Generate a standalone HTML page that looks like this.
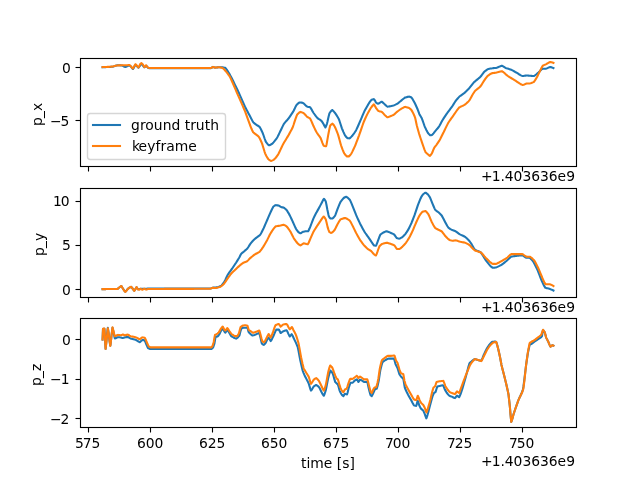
<!DOCTYPE html>
<html lang="en">
<head>
<meta charset="utf-8">
<title>p_x, p_y, p_z: ground truth vs keyframe</title>
<style>
html,body{margin:0;padding:0;background:#fff;}
body{width:640px;height:480px;overflow:hidden;}
svg{display:block;}
text{font-family:"DejaVu Sans","Liberation Sans",sans-serif;font-size:13.889px;fill:#000;white-space:pre;}
.sp{stroke:#000;stroke-width:1.111;fill:none;}
.tk{stroke:#000;stroke-width:1.111;fill:none;}
.gt{stroke:#1f77b4;stroke-width:2.083;fill:none;stroke-linejoin:round;stroke-linecap:square;}
.kf{stroke:#ff7f0e;stroke-width:2.083;fill:none;stroke-linejoin:round;stroke-linecap:square;}
</style>
</head>
<body>
<svg width="640" height="480" viewBox="0 0 640 480">
<rect x="0" y="0" width="640" height="480" fill="#ffffff"/>
<g id="axes1">
<clipPath id="clip1"><rect x="80" y="58" width="497" height="109"/></clipPath>
<g clip-path="url(#clip1)">
<polyline class="gt" points="102.55,67.20 103.55,67.18 104.55,67.15 105.55,67.11 106.55,67.08 107.55,67.03 108.55,66.99 109.55,66.94 110.55,66.88 111.55,66.83 112.00,66.80 112.55,66.69 113.55,66.43 114.55,66.12 115.55,65.80 116.55,65.50 117.55,65.27 118.00,65.20 118.55,65.22 119.55,65.28 120.55,65.36 121.55,65.45 122.00,65.50 122.55,65.70 123.55,66.22 124.55,66.74 125.30,67.00 125.54,66.93 126.54,66.49 127.54,65.96 128.50,65.60 128.54,65.60 129.54,65.77 130.50,66.00 130.54,66.04 131.54,67.31 132.54,68.70 132.90,69.00 133.54,68.16 134.54,66.22 135.50,64.80 135.54,64.82 136.54,65.68 137.54,66.82 138.50,67.60 138.54,67.57 139.54,66.36 140.54,64.76 141.40,63.80 141.54,63.89 142.54,65.03 143.54,66.45 144.40,67.30 144.54,67.22 145.54,66.24 146.10,65.80 146.54,66.14 147.54,67.32 148.00,67.75 148.54,67.93 149.50,68.15 149.54,68.15 150.54,68.15 151.54,68.15 152.54,68.15 153.54,68.15 154.54,68.15 155.54,68.15 156.54,68.15 157.54,68.15 158.54,68.15 159.54,68.15 160.54,68.15 161.54,68.15 162.54,68.15 163.54,68.15 164.54,68.15 165.54,68.15 166.54,68.15 167.54,68.15 168.54,68.15 169.54,68.15 170.53,68.15 171.53,68.15 172.53,68.15 173.53,68.15 174.53,68.15 175.53,68.15 176.53,68.15 177.53,68.15 178.53,68.15 179.53,68.15 180.53,68.15 181.53,68.15 182.53,68.15 183.53,68.15 184.53,68.15 185.53,68.15 186.53,68.15 187.53,68.15 188.53,68.15 189.53,68.15 190.53,68.15 191.53,68.15 192.53,68.15 193.53,68.15 194.53,68.15 195.53,68.15 196.53,68.15 197.53,68.15 198.53,68.15 199.53,68.15 200.53,68.15 201.53,68.15 202.53,68.15 203.53,68.15 204.53,68.15 205.53,68.15 206.53,68.15 207.53,68.15 208.53,68.15 209.53,68.15 210.53,68.15 211.00,68.15 211.53,67.90 212.53,67.22 213.00,67.00 213.53,67.13 214.53,67.49 215.00,67.60 215.52,67.57 216.52,67.49 217.52,67.40 218.52,67.32 219.00,67.30 219.52,67.30 220.52,67.30 221.52,67.30 222.00,67.30 222.52,67.35 223.52,67.48 224.52,67.66 225.20,67.80 225.52,68.11 226.52,69.32 227.52,70.82 228.52,72.47 229.52,74.14 229.90,74.75 230.52,75.91 231.52,77.82 232.52,79.80 233.52,81.81 234.52,83.84 235.52,85.87 236.20,87.25 236.52,87.92 237.52,90.00 238.52,92.12 238.70,92.50 239.52,94.33 240.52,96.60 241.52,98.89 242.52,101.18 243.52,103.45 244.52,105.67 244.90,106.50 245.52,107.72 246.52,109.66 247.52,111.57 248.52,113.46 249.52,115.34 250.52,117.22 251.30,118.70 251.52,119.12 252.52,121.09 253.10,122.10 253.52,122.51 254.52,123.38 255.52,124.17 255.80,124.40 256.52,124.88 257.52,125.49 258.52,126.12 259.52,126.85 259.70,127.00 260.51,128.41 261.51,130.46 262.51,132.67 262.80,133.30 263.51,135.27 264.51,138.24 265.51,141.00 265.90,141.90 266.51,142.70 267.51,143.92 268.51,144.91 269.10,145.30 269.51,145.18 270.51,144.73 271.51,144.16 272.20,143.75 272.51,143.44 273.51,142.37 274.51,141.17 275.51,139.88 276.51,138.53 276.90,138.00 277.51,136.88 278.51,134.91 279.51,132.85 280.51,130.79 280.80,130.20 281.51,128.73 282.51,126.62 283.51,124.62 283.90,123.90 284.51,123.11 285.51,121.92 286.51,120.80 287.51,119.69 288.51,118.51 288.60,118.40 289.51,117.12 290.51,115.67 291.51,114.19 292.51,112.65 293.30,111.40 293.51,111.00 294.51,108.93 295.51,106.83 296.40,105.20 296.51,105.09 297.51,104.05 298.51,103.13 299.50,102.50 299.51,102.50 300.51,102.56 301.51,102.66 302.51,102.78 302.70,102.80 303.51,103.33 304.51,104.22 305.50,105.22 306.50,106.14 307.30,106.70 307.50,106.75 308.50,106.92 309.50,107.09 310.00,107.20 310.50,107.78 311.50,109.32 312.50,111.13 313.50,112.85 313.60,113.00 314.50,114.25 315.50,115.62 316.50,116.92 317.50,118.10 317.50,118.10 318.50,118.82 319.50,119.46 320.50,120.12 321.40,120.80 321.50,120.93 322.50,122.39 323.50,124.00 323.50,124.00 324.50,126.05 325.40,127.50 325.50,127.36 326.50,125.02 327.00,123.60 327.50,121.57 328.50,116.94 329.40,113.40 329.50,113.24 330.50,111.76 331.50,110.57 332.20,110.00 332.50,110.19 333.50,111.15 334.50,112.35 334.80,112.70 335.50,113.69 336.50,115.17 337.50,116.74 338.50,118.44 338.75,118.90 339.50,120.96 340.50,124.05 341.50,127.14 341.90,128.30 342.50,129.74 343.50,132.10 344.50,134.30 345.00,135.30 345.50,136.00 346.50,137.32 347.30,138.10 347.50,138.14 348.50,138.30 349.40,138.40 349.50,138.36 350.50,137.62 351.49,136.61 352.00,136.10 352.49,135.48 353.49,134.14 354.49,132.73 355.49,131.23 355.90,130.60 356.49,129.40 357.49,127.23 358.49,124.97 359.49,122.69 359.80,122.00 360.49,120.40 361.49,118.04 362.49,115.67 363.49,113.35 364.49,111.12 364.50,111.10 365.49,109.24 366.49,107.41 367.49,105.65 368.40,104.10 368.49,103.97 369.49,102.44 370.49,100.98 371.49,99.80 371.60,99.70 372.49,99.41 373.49,99.17 373.90,99.10 374.49,99.81 375.49,101.61 376.25,102.80 376.49,102.95 377.49,103.52 378.10,103.75 378.49,103.61 379.49,103.01 380.49,102.32 381.49,101.77 381.70,101.70 382.49,102.20 383.49,103.12 384.49,104.12 384.80,104.40 385.49,105.04 386.49,106.01 387.49,106.69 387.50,106.70 388.49,106.58 389.49,106.40 390.30,106.25 390.49,106.21 391.49,106.02 392.49,105.81 393.40,105.60 393.49,105.57 394.49,105.15 395.49,104.68 396.48,104.18 397.30,103.75 397.48,103.62 398.48,102.86 399.48,102.05 400.48,101.22 401.25,100.60 401.48,100.41 402.48,99.57 403.48,98.73 404.48,97.96 405.20,97.50 405.48,97.42 406.48,97.14 407.48,96.88 408.48,96.69 409.10,96.60 409.48,96.69 410.48,97.06 411.40,97.50 411.48,97.59 412.48,98.98 413.48,100.69 414.48,102.47 414.50,102.50 415.48,104.54 416.48,106.72 417.48,108.99 417.70,109.50 418.48,111.68 419.40,114.20 419.48,114.35 420.48,116.04 421.48,117.70 421.70,118.10 422.48,120.14 423.48,123.02 424.48,125.86 424.80,126.70 425.48,128.14 426.48,130.21 427.48,132.11 428.00,133.00 428.48,133.56 429.48,134.68 430.30,135.30 430.48,135.28 431.48,135.10 431.90,135.00 432.48,134.50 433.48,133.34 434.48,132.04 435.00,131.40 435.48,130.84 436.48,129.67 437.48,128.49 438.48,127.25 438.90,126.70 439.48,125.74 440.48,123.94 441.47,122.08 442.47,120.27 442.80,119.70 443.47,118.66 444.47,117.14 445.47,115.66 446.47,114.19 447.47,112.74 447.50,112.70 448.47,111.38 449.47,110.06 450.47,108.74 451.47,107.40 452.20,106.40 452.47,105.98 453.47,104.37 454.47,102.75 455.47,101.19 455.60,101.00 456.47,99.92 457.47,98.73 458.47,97.59 459.40,96.60 459.47,96.54 460.47,95.79 461.47,95.10 462.47,94.42 463.47,93.71 463.75,93.50 464.47,92.86 465.47,91.94 466.47,91.00 467.47,90.03 468.47,89.03 468.75,88.75 469.47,87.89 470.47,86.62 471.47,85.33 472.47,84.05 473.47,82.83 473.75,82.50 474.47,81.84 475.47,80.97 476.47,80.14 477.47,79.33 478.47,78.50 479.47,77.64 480.47,76.73 480.60,76.60 481.47,75.49 482.47,74.11 483.47,72.74 484.40,71.60 484.47,71.55 485.47,70.78 486.46,70.07 487.46,69.44 488.10,69.10 488.46,69.01 489.46,68.79 490.46,68.59 491.46,68.42 492.46,68.26 492.50,68.25 493.46,68.16 494.46,68.07 495.46,67.98 496.25,67.90 496.46,67.84 497.46,67.49 498.46,67.05 499.46,66.60 500.46,66.18 501.46,65.85 501.90,65.75 502.46,65.96 503.46,66.53 504.46,67.21 505.46,67.83 505.60,67.90 506.46,68.21 507.46,68.53 508.46,68.84 509.46,69.15 510.46,69.47 511.25,69.75 511.46,69.85 512.46,70.37 513.46,70.92 514.46,71.48 515.46,72.06 516.25,72.50 516.46,72.62 517.46,73.23 518.46,73.88 519.46,74.52 520.46,75.11 521.46,75.62 522.46,75.99 522.50,76.00 523.46,75.92 524.46,75.78 525.46,75.65 526.46,75.53 526.90,75.50 527.46,75.52 528.46,75.59 529.46,75.67 530.46,75.76 531.45,75.85 532.45,75.93 533.45,75.99 533.75,76.00 534.45,75.68 535.45,75.03 536.45,74.24 537.45,73.41 538.10,72.90 538.45,72.57 539.45,71.53 540.45,70.44 541.45,69.46 542.45,68.77 542.50,68.75 543.45,68.75 544.45,68.75 545.45,68.75 545.60,68.75 546.45,68.51 547.45,68.10 548.45,67.63 549.45,67.22 550.25,67.00 550.45,67.04 551.45,67.29 552.45,67.65 553.45,68.10"/>
<polyline class="kf" points="102.55,67.10 103.55,67.07 104.55,67.03 105.55,66.99 106.55,66.95 107.55,66.89 108.55,66.84 109.55,66.77 110.55,66.71 111.55,66.64 112.10,66.60 112.55,66.52 113.55,66.28 114.55,66.01 115.55,65.75 116.55,65.53 116.75,65.50 117.55,65.46 118.55,65.40 119.55,65.36 120.55,65.32 121.40,65.30 121.55,65.30 122.55,65.30 123.55,65.30 124.55,65.30 125.54,65.30 126.10,65.30 126.54,65.27 127.54,65.17 128.54,65.06 129.40,65.00 129.54,65.08 130.54,66.05 131.30,66.90 131.54,67.16 132.54,68.25 132.90,68.50 133.54,67.57 134.54,65.60 134.60,65.50 135.50,64.20 135.54,64.22 136.54,65.21 137.40,66.25 137.54,66.41 138.50,67.40 138.54,67.36 139.54,65.43 140.20,64.10 140.54,63.78 141.40,63.15 141.54,63.22 142.54,64.10 143.00,64.60 143.54,65.66 144.40,67.20 144.54,67.10 145.54,65.85 146.10,65.30 146.54,65.76 147.54,67.23 147.70,67.40 148.54,67.78 149.10,67.95 149.54,67.95 150.54,67.95 151.54,67.95 152.54,67.95 153.54,67.95 154.54,67.95 155.54,67.95 156.54,67.95 157.54,67.95 158.54,67.95 159.54,67.95 160.54,67.95 161.54,67.95 162.54,67.95 163.54,67.95 164.54,67.95 165.54,67.95 166.54,67.95 167.54,67.95 168.54,67.95 169.54,67.95 170.53,67.95 171.53,67.95 172.53,67.95 173.53,67.95 174.53,67.95 175.53,67.95 176.53,67.95 177.53,67.95 178.53,67.95 179.53,67.95 180.53,67.95 181.53,67.95 182.53,67.95 183.53,67.95 184.53,67.95 185.53,67.95 186.53,67.95 187.53,67.95 188.53,67.95 189.53,67.95 190.53,67.95 191.53,67.95 192.53,67.95 193.53,67.95 194.53,67.95 195.53,67.95 196.53,67.95 197.53,67.95 198.53,67.95 199.53,67.95 200.53,67.95 201.53,67.95 202.53,67.95 203.53,67.95 204.53,67.95 205.53,67.95 206.53,67.95 207.53,67.95 208.53,67.95 209.53,67.95 210.53,67.95 211.10,67.95 211.53,67.77 212.53,67.11 213.00,66.90 213.53,67.06 214.53,67.51 215.00,67.65 215.52,67.61 216.52,67.49 217.52,67.34 218.52,67.23 218.90,67.20 219.52,67.30 220.52,67.52 221.52,67.80 222.52,68.11 222.80,68.20 223.52,68.82 224.52,69.81 225.52,70.94 226.52,72.17 227.52,73.47 228.52,74.82 229.52,76.19 229.60,76.30 230.52,78.12 231.52,80.23 232.52,82.45 233.52,84.75 234.52,87.09 235.52,89.45 236.52,91.79 237.40,93.80 237.52,94.07 238.52,96.34 239.52,98.60 240.52,100.86 241.52,103.12 242.52,105.40 243.52,107.72 244.52,110.07 245.20,111.70 245.52,112.55 246.52,115.30 247.52,118.12 248.52,120.94 249.52,123.71 250.00,125.00 250.52,126.28 251.52,128.77 252.52,131.06 253.00,132.00 253.52,132.52 254.52,133.39 255.52,134.15 256.52,134.88 257.52,135.64 258.52,136.52 258.90,136.90 259.52,138.00 260.51,140.04 261.51,142.28 262.00,143.40 262.51,144.95 263.51,148.26 264.51,151.57 265.20,153.60 265.51,154.23 266.51,156.17 267.51,157.92 268.30,159.10 268.51,159.28 269.51,160.09 270.51,160.74 270.90,160.90 271.51,160.75 272.51,160.37 273.51,159.91 273.75,159.80 274.51,159.08 275.51,157.98 276.51,156.75 277.51,155.45 277.70,155.20 278.51,153.71 279.51,151.70 280.51,149.59 281.51,147.45 282.51,145.37 283.10,144.20 283.51,143.49 284.51,141.82 285.51,140.18 286.51,138.55 287.51,136.89 287.80,136.40 288.51,135.14 289.51,133.38 290.51,131.60 291.51,129.74 292.50,127.80 292.51,127.78 293.51,125.00 294.51,121.93 295.51,118.86 296.51,116.09 297.20,114.50 297.51,114.18 298.51,113.18 299.51,112.35 300.30,111.90 300.51,111.94 301.51,112.23 302.51,112.61 303.40,113.00 303.51,113.08 304.51,114.00 305.50,115.07 306.50,116.15 307.30,116.90 307.50,117.02 308.50,117.55 309.50,118.08 310.00,118.40 310.50,119.26 311.50,121.36 312.50,123.73 313.50,126.04 313.60,126.25 314.50,128.12 315.50,130.18 316.50,132.13 316.70,132.50 317.50,133.67 318.50,135.02 319.50,136.37 320.50,137.84 320.60,138.00 321.50,140.28 322.50,143.09 323.50,145.40 323.75,145.80 324.50,145.99 325.50,146.18 326.10,146.25 326.50,144.79 327.50,139.09 328.10,135.60 328.50,133.56 329.50,128.40 330.20,125.60 330.50,125.26 331.50,124.26 332.50,123.60 332.50,123.60 333.50,124.69 334.50,126.23 334.80,126.70 335.50,128.22 336.50,130.61 337.50,133.17 338.00,134.50 338.50,136.17 339.50,139.80 340.50,143.45 341.10,145.50 341.50,146.58 342.50,149.27 343.50,151.76 344.20,153.30 344.50,153.71 345.50,155.05 346.50,156.11 346.90,156.40 347.50,156.40 348.50,156.40 348.90,156.40 349.50,155.93 350.50,154.75 351.25,153.75 351.49,153.31 352.49,151.37 353.49,149.27 354.49,147.06 355.20,145.50 355.49,144.77 356.49,142.22 357.49,139.59 358.49,136.92 359.10,135.30 359.49,134.19 360.49,131.31 361.49,128.38 362.49,125.49 363.49,122.69 363.75,122.00 364.49,120.28 365.49,118.04 366.49,115.87 366.90,115.00 367.49,113.88 368.49,112.01 369.49,110.21 370.49,108.50 370.80,108.00 371.49,107.08 372.49,105.75 373.49,104.69 373.90,104.40 374.49,105.14 375.49,107.02 376.25,108.40 376.49,108.70 377.49,109.96 378.49,111.01 378.60,111.10 379.49,111.36 380.49,111.58 381.49,111.83 381.70,111.90 382.49,112.56 383.49,113.61 384.49,114.69 384.80,115.00 385.49,115.65 386.49,116.61 387.49,117.29 387.50,117.30 388.49,117.01 389.49,116.59 390.30,116.25 390.49,116.18 391.49,115.79 392.49,115.40 393.40,115.00 393.49,114.94 394.49,114.14 395.49,113.24 396.48,112.31 397.30,111.60 397.48,111.46 398.48,110.71 399.48,109.97 400.48,109.26 401.25,108.75 401.48,108.63 402.48,108.08 403.48,107.55 404.48,107.12 405.20,106.90 405.48,106.94 406.48,107.16 407.48,107.44 408.48,107.78 409.10,108.00 409.48,108.27 410.48,109.10 411.40,110.00 411.48,110.13 412.48,111.87 413.48,113.84 414.48,116.05 415.00,117.30 415.48,119.29 416.48,124.00 416.75,125.20 417.48,127.95 418.48,131.57 419.10,133.75 419.48,134.94 420.48,137.98 421.48,140.95 421.70,141.60 422.48,143.84 423.48,146.78 424.48,149.57 425.48,151.95 425.60,152.20 426.48,153.08 427.48,153.95 428.00,154.40 428.48,154.84 429.48,155.72 429.80,155.90 430.48,155.28 431.48,153.92 431.90,153.30 432.48,152.01 433.48,149.47 434.20,147.80 434.48,147.40 435.48,146.11 436.48,144.86 436.60,144.70 437.48,143.42 438.48,141.92 439.48,140.36 439.70,140.00 440.48,138.52 441.47,136.53 442.47,134.48 443.47,132.45 443.60,132.20 444.47,130.43 445.47,128.38 446.47,126.34 447.47,124.36 448.30,122.80 448.47,122.53 449.47,121.03 450.47,119.59 451.47,118.18 452.47,116.79 453.47,115.39 453.75,115.00 454.47,113.97 455.47,112.50 456.47,111.02 457.47,109.61 458.47,108.32 459.20,107.50 459.47,107.34 460.47,106.81 461.47,106.34 462.47,105.89 463.47,105.44 464.47,104.93 464.70,104.80 465.47,104.17 466.47,103.31 467.47,102.38 468.47,101.39 469.40,100.40 469.47,100.29 470.47,98.56 471.47,96.65 472.47,94.81 472.50,94.75 473.47,93.23 474.47,91.73 475.00,91.00 475.47,90.56 476.47,89.69 477.47,88.89 478.47,88.12 479.47,87.30 480.47,86.38 480.60,86.25 481.47,84.94 482.47,83.28 483.10,82.25 483.47,81.71 484.47,80.20 485.47,78.70 486.46,77.29 487.46,76.04 487.50,76.00 488.46,75.29 489.46,74.61 490.46,73.98 491.46,73.45 491.90,73.25 492.46,73.15 493.46,72.99 494.46,72.86 495.46,72.72 496.25,72.60 496.46,72.55 497.46,72.31 498.46,72.03 499.46,71.76 500.46,71.51 501.46,71.31 501.90,71.25 502.46,71.52 503.46,72.19 504.46,73.04 505.46,73.96 506.46,74.89 507.46,75.72 507.50,75.75 508.46,76.38 509.46,77.01 510.46,77.64 511.46,78.25 512.46,78.86 513.46,79.46 514.46,80.07 515.00,80.40 515.46,80.68 516.46,81.34 517.46,82.02 518.46,82.71 519.46,83.37 520.46,83.98 521.46,84.50 522.46,84.91 522.75,85.00 523.46,84.81 524.46,84.42 525.46,83.97 526.46,83.60 526.90,83.50 527.46,83.50 528.46,83.50 529.40,83.50 529.46,83.49 530.46,83.26 531.45,82.95 532.45,82.57 533.45,82.14 533.75,82.00 534.45,81.15 535.45,79.64 536.45,77.98 536.90,77.25 537.45,76.19 538.45,74.16 539.45,72.10 540.00,71.00 540.45,70.09 541.45,68.01 542.45,66.18 542.75,65.75 543.45,65.35 544.45,64.88 545.45,64.46 546.25,64.10 546.45,63.99 547.45,63.41 548.45,62.81 549.45,62.29 550.25,62.00 550.45,62.03 551.45,62.22 552.45,62.50 553.45,62.90"/>
</g>
<line class="tk" x1="88.5" y1="166.5" x2="88.5" y2="171.5"/>
<line class="tk" x1="150.5" y1="166.5" x2="150.5" y2="171.5"/>
<line class="tk" x1="212.5" y1="166.5" x2="212.5" y2="171.5"/>
<line class="tk" x1="274.5" y1="166.5" x2="274.5" y2="171.5"/>
<line class="tk" x1="336.5" y1="166.5" x2="336.5" y2="171.5"/>
<line class="tk" x1="398.5" y1="166.5" x2="398.5" y2="171.5"/>
<line class="tk" x1="460.5" y1="166.5" x2="460.5" y2="171.5"/>
<line class="tk" x1="522.5" y1="166.5" x2="522.5" y2="171.5"/>
<line class="tk" x1="80.5" y1="67.5" x2="75.5" y2="67.5"/>
<text id="t_yt1_0" x="61.92" y="72.55">0</text>
<line class="tk" x1="80.5" y1="120.5" x2="75.5" y2="120.5"/>
<text id="t_yt1_-5" x="50.03 60.41" y="125.8">−5</text>
<rect class="sp" x="80.5" y="58.5" width="496" height="108"/>
<text id="t_off1" x="481.05 491.67 500.5 504.66 513.48 522.56 531.14 539.97 548.8 557.62 566.16" y="180.5">+1.403636e9</text>
<text id="t_yl1" transform="translate(41.6,114.25) rotate(-90)" x="-11.73 -3.69 3.25" y="0">p_x</text>
</g>
<g id="axes2">
<clipPath id="clip2"><rect x="80" y="188" width="497" height="110"/></clipPath>
<g clip-path="url(#clip2)">
<polyline class="gt" points="102.55,289.10 103.55,289.10 104.55,289.09 105.55,289.09 106.55,289.08 107.55,289.08 108.55,289.07 109.55,289.07 110.55,289.06 111.55,289.06 112.55,289.05 113.55,289.04 114.55,289.03 115.55,289.02 116.55,289.01 117.35,289.00 117.55,288.90 118.55,288.08 119.20,287.50 119.55,287.25 120.55,286.51 121.35,286.10 121.55,286.29 122.55,287.93 123.00,288.70 123.55,289.51 124.55,290.99 125.25,291.70 125.54,291.50 126.54,290.43 127.54,289.18 128.00,288.70 128.54,288.32 129.54,287.64 130.54,287.09 131.05,286.90 131.54,287.28 132.54,288.46 132.75,288.70 133.54,289.88 134.25,290.70 134.54,290.41 135.54,288.73 136.54,287.25 136.60,287.20 137.54,288.69 138.00,289.30 138.54,289.20 139.54,288.91 140.50,288.70 140.54,288.70 141.54,288.73 142.54,288.76 143.54,288.79 144.00,288.80 144.54,288.78 145.54,288.73 146.54,288.67 147.54,288.62 148.00,288.60 148.54,288.60 149.54,288.60 150.54,288.59 151.54,288.59 152.54,288.59 153.54,288.59 154.54,288.58 155.54,288.58 156.54,288.58 157.54,288.58 158.54,288.58 159.54,288.57 160.54,288.57 161.54,288.57 162.54,288.57 163.54,288.57 164.54,288.57 165.54,288.56 166.54,288.56 167.54,288.56 168.54,288.56 169.54,288.56 170.53,288.56 171.53,288.56 172.53,288.56 173.53,288.56 174.53,288.56 175.53,288.55 176.53,288.55 177.53,288.55 178.53,288.55 179.53,288.55 180.53,288.55 181.53,288.55 182.53,288.55 183.53,288.55 184.53,288.55 185.53,288.55 186.53,288.54 187.53,288.54 188.53,288.54 189.53,288.54 190.53,288.54 191.53,288.54 192.53,288.54 193.53,288.54 194.53,288.53 195.53,288.53 196.53,288.53 197.53,288.53 198.53,288.53 199.53,288.53 200.53,288.52 201.53,288.52 202.53,288.52 203.53,288.52 204.53,288.52 205.53,288.51 206.53,288.51 207.53,288.51 208.53,288.50 209.53,288.50 210.20,288.50 210.53,288.44 211.53,288.15 212.53,287.82 213.00,287.70 213.53,287.64 214.53,287.56 215.52,287.48 216.52,287.40 217.50,287.30 217.52,287.29 218.52,286.95 219.52,286.52 220.52,286.02 221.30,285.60 221.52,285.37 222.52,284.20 223.52,282.85 224.40,281.60 224.52,281.37 225.52,279.35 226.52,277.19 227.52,275.15 227.60,275.00 228.52,273.61 229.52,272.19 230.52,270.81 231.52,269.43 232.25,268.40 232.52,268.00 233.52,266.52 234.52,265.03 235.52,263.53 236.20,262.50 236.52,261.99 237.52,260.41 238.52,258.80 239.30,257.50 239.52,257.07 240.52,254.97 241.10,253.90 241.52,253.49 242.52,252.63 243.52,251.85 244.25,251.25 244.52,251.01 245.52,250.15 246.52,249.26 247.40,248.40 247.52,248.24 248.52,246.73 249.52,245.13 250.00,244.40 250.52,243.73 251.52,242.45 252.52,241.23 253.50,240.10 253.52,240.09 254.52,239.23 255.52,238.42 256.52,237.64 257.00,237.25 257.52,236.86 258.52,236.12 259.52,235.35 260.20,234.75 260.51,234.26 261.51,232.49 262.51,230.52 263.51,228.48 263.80,227.90 264.51,226.29 265.51,223.96 266.51,221.59 267.51,219.23 267.70,218.80 268.51,216.94 269.51,214.67 270.51,212.43 270.80,211.80 271.51,210.28 272.51,208.16 273.40,206.60 273.51,206.51 274.51,205.77 275.51,205.21 275.80,205.10 276.51,205.19 277.51,205.38 278.51,205.60 278.90,205.70 279.51,206.03 280.51,206.68 281.25,207.10 281.51,207.16 282.51,207.36 283.51,207.58 283.60,207.60 284.51,208.22 285.51,209.07 286.51,210.01 286.70,210.20 287.51,211.42 288.51,213.10 289.51,214.88 289.80,215.40 290.51,216.86 291.51,219.00 292.51,221.18 293.00,222.25 293.51,223.37 294.51,225.63 295.51,227.81 296.10,229.00 296.51,229.60 297.51,231.01 298.40,232.10 298.51,232.18 299.51,232.90 300.30,233.30 300.51,233.24 301.51,232.72 302.51,232.10 303.10,231.80 303.51,231.70 304.51,231.46 305.50,231.30 305.50,231.30 306.50,231.30 307.50,231.30 308.10,231.30 308.50,230.74 309.50,228.55 310.20,226.90 310.50,226.14 311.50,223.50 312.50,220.83 313.30,218.80 313.50,218.37 314.50,216.32 315.50,214.34 316.40,212.60 316.50,212.41 317.50,210.63 318.50,208.88 319.50,207.10 319.50,207.10 320.50,205.14 321.50,203.17 321.90,202.40 322.50,201.19 323.50,199.29 323.90,198.80 324.50,199.42 325.50,201.04 325.80,201.60 326.50,204.99 327.30,209.40 327.50,210.34 328.50,215.02 328.90,216.50 329.50,217.42 330.50,218.50 330.50,218.50 331.50,218.50 332.50,218.50 332.50,218.50 333.50,217.65 334.50,216.41 335.10,215.60 335.50,214.68 336.50,211.97 337.50,209.11 337.80,208.30 338.50,206.59 339.50,204.18 340.50,202.01 340.50,202.00 341.50,200.60 342.50,199.33 343.50,198.20 343.70,198.00 344.50,197.50 345.50,196.96 346.20,196.70 346.50,196.84 347.50,197.51 348.50,198.41 349.50,199.43 349.80,199.75 350.50,201.12 351.49,203.42 352.49,205.89 353.00,207.10 353.49,208.33 354.49,210.87 355.49,213.40 356.10,214.90 356.49,215.80 357.49,218.05 358.49,220.26 359.49,222.42 360.00,223.50 360.49,224.44 361.49,226.33 362.49,228.18 363.49,229.99 364.49,231.74 364.70,232.10 365.49,233.26 366.49,234.66 367.49,236.04 368.49,237.44 368.60,237.60 369.49,238.94 370.49,240.45 371.49,241.94 371.70,242.25 372.49,243.39 373.49,244.78 374.10,245.40 374.49,245.48 375.49,245.66 375.90,245.70 376.49,244.67 377.49,242.04 378.00,240.70 378.49,239.39 379.49,236.62 380.30,234.75 380.49,234.57 381.49,233.74 382.49,233.04 382.70,232.90 383.49,232.52 384.49,232.04 385.49,231.62 386.49,231.32 386.60,231.30 387.49,231.53 388.49,231.91 389.49,232.32 389.70,232.40 390.49,232.75 391.49,233.20 392.49,233.68 393.49,234.20 394.40,234.75 394.49,234.85 395.49,236.31 396.48,237.77 396.70,238.00 397.48,238.29 398.48,238.58 399.10,238.70 399.48,238.59 400.48,238.18 401.48,237.65 402.20,237.25 402.48,237.01 403.48,236.06 404.48,235.00 405.30,234.10 405.48,233.85 406.48,232.41 407.48,230.87 408.40,229.40 408.48,229.24 409.48,227.24 410.48,225.14 411.48,222.96 411.60,222.70 412.48,220.49 413.48,217.91 414.48,215.26 414.80,214.40 415.48,212.38 416.48,209.33 417.48,206.31 417.90,205.10 418.48,203.62 419.48,201.11 420.48,198.71 421.40,196.70 421.48,196.58 422.48,195.12 423.30,194.10 423.48,193.97 424.48,193.26 425.48,192.74 425.60,192.70 426.48,193.23 427.48,194.11 428.00,194.60 428.48,195.22 429.48,196.67 430.00,197.50 430.48,198.57 431.48,201.05 432.48,203.61 432.80,204.40 433.48,206.01 434.48,208.37 435.20,209.80 435.48,210.06 436.48,210.86 437.48,211.56 438.40,212.25 438.48,212.32 439.48,213.24 440.48,214.21 441.47,215.26 441.60,215.40 442.47,216.89 443.47,218.78 444.47,220.75 445.47,222.65 445.50,222.70 446.47,224.44 447.47,226.20 448.47,227.73 448.60,227.90 449.47,228.50 450.47,229.09 451.47,229.63 451.70,229.75 452.47,230.07 453.47,230.45 454.47,230.83 455.47,231.24 455.60,231.30 456.47,231.88 457.47,232.62 458.47,233.38 459.47,234.08 459.50,234.10 460.47,234.60 461.47,235.07 462.47,235.53 463.47,236.00 464.47,236.51 465.00,236.80 465.47,237.18 466.47,238.04 467.47,238.98 468.47,239.96 468.90,240.40 469.47,241.14 470.47,242.51 471.47,243.95 471.50,244.00 472.47,245.68 473.47,247.50 474.47,249.09 474.70,249.40 475.47,249.87 476.47,250.39 477.47,250.84 478.47,251.28 479.47,251.75 480.47,252.29 480.80,252.50 481.47,253.36 482.47,254.87 483.47,256.54 484.47,258.23 485.47,259.80 485.60,260.00 486.46,261.07 487.46,262.35 488.46,263.63 489.46,264.85 490.46,265.97 491.46,266.92 492.46,267.66 492.70,267.80 493.46,267.75 494.46,267.66 495.46,267.54 495.80,267.50 496.46,267.28 497.46,266.88 498.46,266.42 499.46,265.93 500.46,265.41 501.25,265.00 501.46,264.86 502.46,264.14 503.46,263.39 504.46,262.60 505.46,261.80 506.46,260.99 506.70,260.80 507.46,260.10 508.46,259.12 509.46,258.14 510.46,257.25 511.40,256.60 511.46,256.59 512.46,256.41 513.46,256.25 514.46,256.11 515.46,255.98 516.46,255.86 516.90,255.80 517.46,255.74 518.46,255.63 519.46,255.53 520.46,255.43 521.46,255.35 522.30,255.30 522.46,255.35 523.46,255.90 524.46,256.64 525.46,257.33 526.25,257.70 526.46,257.70 527.46,257.70 528.46,257.70 529.40,257.70 529.46,257.73 530.46,258.44 531.45,259.44 532.45,260.60 533.30,261.60 533.45,261.86 534.45,263.67 535.45,265.66 536.45,267.75 537.45,269.89 537.60,270.20 538.45,272.35 539.45,275.00 540.45,277.66 541.45,280.19 541.50,280.30 542.45,282.34 543.45,284.48 544.45,286.40 545.40,287.80 545.45,287.82 546.45,288.12 547.45,288.36 548.45,288.59 549.45,288.83 549.70,288.90 550.45,289.19 551.45,289.60 552.45,290.04 553.45,290.50"/>
<polyline class="kf" points="102.55,289.10 103.55,289.10 104.55,289.09 105.55,289.09 106.55,289.08 107.55,289.08 108.55,289.07 109.55,289.07 110.55,289.06 111.55,289.06 112.55,289.05 113.55,289.04 114.55,289.03 115.55,289.02 116.55,289.01 117.35,289.00 117.55,288.90 118.55,288.08 119.20,287.50 119.55,287.24 120.55,286.45 121.35,286.00 121.55,286.20 122.55,287.93 123.00,288.75 123.55,289.60 124.55,291.16 125.25,291.90 125.54,291.69 126.54,290.57 127.54,289.26 128.00,288.75 128.54,288.34 129.54,287.60 130.54,287.00 131.05,286.80 131.54,287.22 132.54,288.49 132.75,288.75 133.54,290.01 134.25,290.90 134.54,290.58 135.54,288.76 136.54,287.15 136.60,287.10 137.54,288.69 138.00,289.40 138.54,289.59 139.25,289.75 139.54,289.56 140.50,288.75 140.54,288.76 141.54,289.31 142.40,289.75 142.54,289.70 143.54,289.11 144.25,288.75 144.54,288.84 145.54,289.38 146.10,289.60 146.54,289.49 147.54,289.12 148.00,289.00 148.54,289.00 149.54,288.99 150.54,288.98 151.54,288.97 152.54,288.97 153.54,288.96 154.54,288.96 155.54,288.95 156.54,288.95 157.54,288.94 158.54,288.94 159.54,288.93 160.54,288.93 161.54,288.92 162.54,288.92 163.54,288.92 164.54,288.91 165.54,288.91 166.54,288.91 167.54,288.90 168.54,288.90 169.54,288.90 170.53,288.89 171.53,288.89 172.53,288.89 173.53,288.89 174.53,288.89 175.53,288.88 176.53,288.88 177.53,288.88 178.53,288.88 179.53,288.87 180.53,288.87 181.53,288.87 182.53,288.87 183.53,288.87 184.53,288.86 185.53,288.86 186.53,288.86 187.53,288.86 188.53,288.85 189.53,288.85 190.53,288.85 191.53,288.84 192.53,288.84 193.53,288.84 194.53,288.83 195.53,288.83 196.53,288.83 197.53,288.82 198.53,288.82 199.53,288.81 200.53,288.81 201.53,288.80 202.53,288.80 203.53,288.79 204.53,288.79 205.53,288.78 206.53,288.78 207.53,288.77 208.53,288.76 209.53,288.76 210.20,288.75 210.53,288.66 211.53,288.18 212.50,287.80 212.53,287.80 213.53,287.86 214.53,287.94 215.52,288.00 215.60,288.00 216.52,287.85 217.52,287.62 218.52,287.34 219.52,287.03 220.50,286.70 220.52,286.69 221.52,285.99 222.52,285.16 223.52,284.26 223.70,284.10 224.52,283.02 225.52,281.57 226.52,280.10 226.80,279.70 227.52,278.67 228.52,277.22 229.52,275.79 230.52,274.43 230.70,274.20 231.52,273.33 232.52,272.33 233.52,271.35 234.52,270.38 234.60,270.30 235.52,269.42 236.52,268.47 237.52,267.53 238.52,266.61 239.30,265.90 239.52,265.72 240.52,264.88 241.52,264.05 242.52,263.28 243.20,262.80 243.52,262.66 244.52,262.26 245.52,261.90 246.52,261.52 247.10,261.25 247.52,260.89 248.52,259.88 249.52,258.79 250.20,258.10 250.52,257.83 251.52,257.01 252.52,256.21 253.52,255.43 254.52,254.68 254.90,254.40 255.52,254.04 256.52,253.50 257.52,252.98 258.52,252.43 259.52,251.81 259.60,251.75 260.51,250.67 261.51,249.32 262.51,247.89 263.20,246.90 263.51,246.39 264.51,244.72 265.51,243.00 266.51,241.24 267.10,240.20 267.51,239.39 268.51,237.36 269.51,235.33 270.20,234.00 270.51,233.48 271.51,231.86 272.51,230.31 273.40,229.00 273.51,228.86 274.51,227.61 275.51,226.53 275.80,226.30 276.51,226.16 277.51,226.01 278.51,225.87 279.51,225.73 279.70,225.70 280.51,225.51 281.51,225.24 282.51,224.99 283.51,224.81 283.60,224.80 284.51,225.15 285.51,225.72 286.51,226.37 286.70,226.50 287.51,227.45 288.51,228.81 289.51,230.27 290.20,231.30 290.51,231.85 291.51,233.74 292.51,235.71 293.51,237.64 294.10,238.70 294.51,239.29 295.51,240.70 296.51,242.03 297.30,243.00 297.51,243.19 298.51,244.12 299.51,244.95 300.30,245.40 300.51,245.33 301.51,244.77 302.51,244.06 303.51,243.45 303.90,243.30 304.51,243.41 305.50,243.69 306.50,244.01 307.50,244.25 307.80,244.30 308.50,243.16 309.50,240.77 310.20,239.10 310.50,238.41 311.50,236.11 312.50,233.82 313.30,232.10 313.50,231.75 314.50,230.07 315.50,228.46 316.50,226.90 317.20,225.80 317.50,225.34 318.50,223.84 319.50,222.37 320.30,221.20 320.50,220.91 321.50,219.36 322.50,217.85 323.50,216.69 323.75,216.50 324.50,217.35 325.50,219.04 325.80,219.60 326.50,222.28 327.50,226.63 327.70,227.40 328.50,229.87 329.40,232.10 329.50,232.16 330.50,232.66 331.25,232.90 331.50,232.78 332.50,232.11 333.50,231.20 334.40,230.30 334.50,230.14 335.50,228.33 336.50,226.28 337.40,224.50 337.50,224.33 338.50,222.55 339.50,220.83 340.50,219.46 340.55,219.40 341.50,219.02 342.50,218.67 343.50,218.36 344.50,218.13 345.20,218.00 345.50,218.09 346.50,218.52 347.50,219.08 348.50,219.75 349.50,220.47 349.80,220.70 350.50,221.78 351.49,223.63 352.49,225.62 353.00,226.60 353.49,227.59 354.49,229.64 355.49,231.69 356.10,232.90 356.49,233.63 357.49,235.48 358.49,237.29 359.49,239.04 360.00,239.90 360.49,240.60 361.49,241.98 362.49,243.31 363.49,244.59 363.90,245.10 364.49,245.73 365.49,246.78 366.49,247.79 367.49,248.73 367.80,249.00 368.49,249.42 369.49,249.97 370.49,250.54 370.90,250.80 371.49,251.41 372.49,252.59 373.49,253.77 374.10,254.40 374.49,254.68 375.49,255.33 375.90,255.50 376.49,254.36 377.49,251.63 377.50,251.60 378.49,248.78 379.49,246.22 379.50,246.20 380.49,245.21 381.49,244.39 381.90,244.10 382.49,243.88 383.49,243.51 384.49,243.19 385.49,242.92 386.49,242.72 386.60,242.70 387.49,242.87 388.49,243.15 389.49,243.47 390.49,243.80 390.50,243.80 391.49,244.16 392.49,244.54 393.49,244.95 394.40,245.40 394.49,245.49 395.49,246.95 396.48,248.49 397.00,249.00 397.48,249.00 398.48,249.00 399.40,249.00 399.48,248.97 400.48,248.36 401.48,247.51 402.20,246.90 402.48,246.62 403.48,245.58 404.48,244.48 405.48,243.33 406.10,242.60 406.48,242.03 407.48,240.49 408.48,238.87 409.48,237.19 410.00,236.30 410.48,235.33 411.48,233.25 412.48,231.10 413.10,229.75 413.48,228.86 414.48,226.47 415.48,224.06 416.25,222.25 416.48,221.75 417.48,219.58 418.48,217.48 419.40,215.70 419.48,215.59 420.48,214.17 421.48,212.86 422.48,211.82 422.50,211.80 423.48,211.46 424.48,211.18 425.40,211.00 425.48,211.05 426.48,211.91 427.48,213.13 428.48,214.47 428.50,214.50 429.48,216.62 430.48,219.06 431.48,221.43 431.60,221.70 432.48,223.37 433.48,225.26 434.48,226.96 435.20,228.00 435.48,228.18 436.48,228.77 437.48,229.28 438.40,229.75 438.48,229.79 439.48,230.25 440.48,230.71 441.47,231.23 441.60,231.30 442.47,232.28 443.47,233.60 444.47,234.98 445.47,236.27 445.50,236.30 446.47,237.29 447.47,238.29 448.47,239.20 449.40,239.90 449.47,239.92 450.47,240.24 451.47,240.51 452.47,240.70 452.50,240.70 453.47,240.62 454.47,240.50 455.47,240.41 455.60,240.40 456.47,240.58 457.47,240.87 458.47,241.21 459.47,241.55 460.30,241.80 460.47,241.84 461.47,242.03 462.47,242.21 463.47,242.38 464.47,242.58 465.00,242.70 465.47,242.89 466.47,243.33 467.47,243.82 468.47,244.36 468.90,244.60 469.47,245.11 470.47,246.11 471.47,247.16 472.00,247.70 472.47,248.15 473.47,249.15 474.47,250.08 475.00,250.50 475.47,250.69 476.47,251.05 477.47,251.36 478.47,251.65 479.47,251.96 480.47,252.32 480.90,252.50 481.47,253.00 482.47,254.05 483.47,255.22 484.47,256.42 485.47,257.56 485.60,257.70 486.46,258.53 487.46,259.54 488.46,260.56 489.46,261.54 490.46,262.43 491.46,263.20 492.46,263.79 492.70,263.90 493.46,263.90 494.46,263.90 495.46,263.90 495.80,263.90 496.46,263.70 497.46,263.29 498.46,262.79 499.46,262.23 500.46,261.67 501.25,261.25 501.46,261.13 502.46,260.58 503.46,260.02 504.46,259.45 505.46,258.86 506.46,258.25 506.70,258.10 507.46,257.45 508.46,256.48 509.46,255.50 510.46,254.66 511.40,254.10 511.46,254.10 512.46,254.10 513.46,254.10 514.46,254.10 515.46,254.10 516.46,254.10 516.90,254.10 517.46,254.10 518.46,254.10 519.46,254.10 520.46,254.10 521.46,254.10 522.30,254.10 522.46,254.15 523.46,254.71 524.46,255.46 525.46,256.18 526.25,256.60 526.46,256.62 527.46,256.70 528.46,256.76 529.46,256.83 530.20,256.90 530.46,257.04 531.45,257.74 532.45,258.63 533.45,259.63 534.10,260.30 534.45,260.86 535.45,262.59 536.45,264.49 537.45,266.49 538.45,268.51 538.50,268.60 539.45,270.84 540.45,273.29 541.45,275.75 542.40,278.00 542.45,278.11 543.45,280.38 544.45,282.58 545.45,284.15 545.50,284.20 546.45,284.20 547.45,284.20 548.45,284.20 549.45,284.20 549.70,284.20 550.45,284.43 551.45,284.87 552.45,285.41 553.45,286.00"/>
</g>
<line class="tk" x1="88.5" y1="297.5" x2="88.5" y2="302.5"/>
<line class="tk" x1="150.5" y1="297.5" x2="150.5" y2="302.5"/>
<line class="tk" x1="212.5" y1="297.5" x2="212.5" y2="302.5"/>
<line class="tk" x1="274.5" y1="297.5" x2="274.5" y2="302.5"/>
<line class="tk" x1="336.5" y1="297.5" x2="336.5" y2="302.5"/>
<line class="tk" x1="398.5" y1="297.5" x2="398.5" y2="302.5"/>
<line class="tk" x1="460.5" y1="297.5" x2="460.5" y2="302.5"/>
<line class="tk" x1="522.5" y1="297.5" x2="522.5" y2="302.5"/>
<line class="tk" x1="80.5" y1="201.5" x2="75.5" y2="201.5"/>
<text id="t_yt2_10" x="53.09 60.66" y="205.8">10</text>
<line class="tk" x1="80.5" y1="245.5" x2="75.5" y2="245.5"/>
<text id="t_yt2_5" x="61.92" y="249.8">5</text>
<line class="tk" x1="80.5" y1="289.5" x2="75.5" y2="289.5"/>
<text id="t_yt2_0" x="61.92" y="294.55">0</text>
<rect class="sp" x="80.5" y="188.5" width="496" height="109"/>
<text id="t_off2" x="481.05 491.67 500.5 504.66 513.48 522.56 531.14 539.97 548.8 557.62 566.16" y="311.5">+1.403636e9</text>
<text id="t_yl2" transform="translate(43.6,244.25) rotate(-90)" x="-11.73 -3.69 3.25" y="0">p_y</text>
</g>
<g id="axes3">
<clipPath id="clip3"><rect x="80" y="318" width="497" height="110"/></clipPath>
<g clip-path="url(#clip3)">
<polyline class="gt" points="102.55,339.60 103.00,329.00 103.55,328.89 104.40,328.80 104.55,330.47 105.55,348.33 105.60,348.80 106.55,340.09 107.55,329.38 107.80,327.80 108.55,332.41 109.55,341.07 110.30,345.70 110.55,344.37 111.55,335.19 112.50,327.70 112.55,327.81 113.55,332.25 114.55,337.39 114.90,338.50 115.55,338.28 116.55,337.77 117.55,337.30 117.90,337.20 118.55,337.24 119.55,337.33 120.55,337.45 121.00,337.50 121.55,337.64 122.55,337.93 122.90,338.00 123.55,337.83 124.55,337.46 124.75,337.40 125.54,337.28 126.54,337.13 127.54,337.03 127.90,337.00 128.54,337.27 129.54,337.90 130.40,338.40 130.54,338.45 131.54,338.76 132.54,339.03 133.54,339.29 134.54,339.56 135.54,339.85 136.00,340.00 136.54,340.30 137.54,340.96 138.54,341.63 139.54,342.13 139.75,342.20 140.54,341.59 141.54,340.53 142.25,340.00 142.54,340.01 143.54,340.09 144.50,340.20 144.54,340.25 145.54,342.37 146.20,344.00 146.54,344.80 147.54,347.16 148.00,348.00 148.54,348.31 149.54,348.77 150.00,348.90 150.54,348.90 151.54,348.90 152.54,348.90 153.54,348.90 154.54,348.90 155.54,348.90 156.54,348.90 157.54,348.90 158.54,348.90 159.54,348.90 160.54,348.90 161.54,348.90 162.54,348.90 163.54,348.90 164.54,348.90 165.54,348.90 166.54,348.90 167.54,348.90 168.54,348.90 169.54,348.90 170.53,348.90 171.53,348.90 172.53,348.90 173.53,348.90 174.53,348.90 175.53,348.90 176.53,348.90 177.53,348.90 178.53,348.90 179.53,348.90 180.53,348.90 181.53,348.90 182.53,348.90 183.53,348.90 184.53,348.90 185.53,348.90 186.53,348.90 187.53,348.90 188.53,348.90 189.53,348.90 190.53,348.90 191.53,348.90 192.53,348.90 193.53,348.90 194.53,348.90 195.53,348.90 196.53,348.90 197.53,348.90 198.53,348.90 199.53,348.90 200.53,348.90 201.53,348.90 202.53,348.90 203.53,348.90 204.53,348.90 205.53,348.90 206.53,348.90 207.53,348.90 208.53,348.90 209.53,348.90 210.53,348.90 211.50,348.90 211.53,348.89 212.53,348.04 213.00,347.50 213.53,346.24 214.40,343.60 214.53,342.95 215.52,337.00 215.60,336.75 216.52,336.62 217.50,336.50 217.52,336.48 218.52,335.43 219.40,334.25 219.52,334.02 220.52,331.88 221.20,330.50 221.52,330.04 222.52,328.77 222.75,328.60 223.52,329.71 224.52,331.72 225.25,332.75 225.52,332.48 226.52,330.85 227.25,329.90 227.52,330.15 228.52,331.52 229.52,333.31 230.52,335.08 231.25,336.10 231.52,336.27 232.52,336.89 233.52,337.47 234.52,337.97 235.52,338.38 236.25,338.60 236.52,338.45 237.52,337.67 238.52,336.60 239.40,335.50 239.52,335.15 240.52,331.10 241.25,328.60 241.52,328.47 242.52,328.07 243.52,327.79 243.75,327.75 244.52,327.75 245.52,327.75 246.52,327.75 247.50,327.75 247.52,327.79 248.50,331.75 248.52,331.77 249.52,333.02 250.52,334.07 251.52,334.91 252.50,335.50 252.52,335.50 253.52,335.26 254.52,334.91 255.52,334.52 256.25,334.25 256.52,334.14 257.52,333.66 258.52,333.21 259.20,333.00 259.52,333.78 260.51,337.67 260.60,338.00 261.51,342.22 261.90,343.60 262.51,344.16 263.51,344.80 263.75,344.90 264.51,344.29 265.51,343.11 265.60,343.00 266.51,341.00 267.20,339.50 267.51,339.04 268.51,337.74 268.70,337.60 269.51,338.94 270.51,340.89 270.70,341.10 271.51,339.95 272.51,337.88 273.40,336.00 273.51,335.76 274.51,333.38 275.51,331.04 276.40,329.60 276.51,329.60 277.51,329.60 278.51,329.60 278.90,329.60 279.51,330.71 280.51,332.90 280.60,333.00 281.51,332.51 282.51,331.75 283.20,331.30 283.51,331.19 284.51,330.84 285.51,330.53 286.51,330.31 286.60,330.30 287.51,331.79 288.51,334.14 289.51,336.15 289.80,336.50 290.51,335.65 291.51,334.27 291.60,334.20 292.51,335.55 293.51,337.69 294.30,339.40 294.51,339.84 295.51,341.92 296.51,344.07 297.51,346.49 297.70,347.00 298.51,350.84 299.51,356.27 300.20,359.90 300.51,361.27 301.51,365.74 302.51,369.89 302.80,371.00 303.51,372.84 304.50,375.20 304.51,375.21 305.50,377.17 306.25,378.60 306.50,379.11 307.50,381.08 308.50,383.15 308.80,383.80 309.50,386.11 310.50,389.50 311.00,390.60 311.50,390.08 312.50,388.50 313.50,386.82 313.90,386.30 314.50,385.89 315.50,385.28 316.20,385.00 316.50,385.13 317.50,385.78 318.50,386.64 319.10,387.20 319.50,387.90 320.50,389.98 321.50,392.11 321.60,392.30 322.50,393.89 323.50,395.41 323.80,395.70 324.50,394.22 325.50,391.07 325.90,389.75 326.50,386.87 327.50,381.56 328.10,378.60 328.50,377.08 329.50,373.28 330.50,370.60 330.50,370.60 331.50,371.65 332.50,373.18 332.70,373.50 333.50,376.02 334.50,379.67 335.30,382.10 335.50,382.33 336.50,383.25 337.50,384.14 337.90,384.60 338.50,386.54 339.50,390.28 339.60,390.60 340.50,392.44 341.50,394.22 341.80,394.70 342.50,395.42 343.40,396.10 343.50,396.02 344.50,394.40 345.00,393.75 345.50,393.90 346.50,394.35 347.00,394.50 347.50,393.00 348.50,388.69 348.60,388.30 349.50,385.47 350.50,382.96 350.60,382.80 351.49,382.80 352.49,382.80 352.50,382.80 353.49,381.93 354.49,380.79 354.80,380.50 355.49,380.07 356.49,379.54 356.90,379.40 357.49,380.36 358.40,382.00 358.49,381.92 359.49,380.34 360.00,379.70 360.49,379.85 361.49,380.30 361.90,380.50 362.49,380.90 363.49,381.64 364.20,382.00 364.49,382.00 365.49,382.00 366.49,382.00 367.30,382.00 367.49,382.52 368.49,387.16 368.90,389.10 369.49,391.47 370.49,394.98 370.50,395.00 371.49,395.98 371.70,396.10 372.49,394.77 373.30,393.00 373.49,392.60 374.49,390.33 375.20,389.10 375.49,389.02 376.49,388.81 376.70,388.75 377.49,386.21 378.49,381.71 378.75,380.50 379.49,375.63 380.30,370.30 380.49,369.50 381.49,365.42 382.49,362.23 382.50,362.20 383.49,361.38 384.49,360.71 385.30,360.20 385.49,360.09 386.49,359.50 387.49,358.95 388.40,358.60 388.49,358.60 389.49,358.60 390.49,358.60 391.49,358.60 392.49,358.60 393.49,358.60 393.90,358.60 394.49,360.27 395.49,364.06 395.50,364.10 396.48,366.03 397.48,367.97 397.50,368.00 398.48,371.28 399.40,374.20 399.48,374.34 400.48,375.78 401.48,377.03 401.70,377.30 402.48,378.03 403.30,378.90 403.48,379.69 404.48,385.81 404.80,387.50 405.48,389.25 406.48,391.45 407.48,393.45 408.00,394.50 408.48,395.39 409.48,397.16 410.48,398.91 411.10,400.00 411.48,400.72 412.48,402.74 413.48,404.59 414.15,405.50 414.48,405.59 415.48,405.80 416.20,405.90 416.48,405.19 417.48,401.32 417.70,400.80 418.48,402.85 419.30,405.50 419.48,405.88 420.48,407.88 420.90,408.60 421.48,409.14 422.48,409.93 423.20,410.60 423.48,411.12 424.48,413.34 424.80,414.10 425.48,416.25 426.30,418.40 426.48,418.08 427.48,415.05 428.20,412.50 428.48,411.46 429.48,407.53 430.20,404.70 430.48,403.68 431.48,399.96 432.48,396.49 432.60,396.10 433.48,394.01 434.00,393.00 434.48,392.65 435.48,392.01 435.60,391.90 436.48,388.96 437.20,386.70 437.48,386.58 438.48,386.25 439.48,385.99 439.80,385.90 440.48,385.73 441.47,385.48 442.47,385.27 443.00,385.20 443.47,385.99 444.47,388.52 445.00,389.80 445.47,390.65 446.47,392.33 446.90,393.00 447.47,393.71 448.47,394.88 449.20,395.60 449.47,395.74 450.47,396.18 451.47,396.57 452.30,396.90 452.47,396.98 453.47,397.48 454.47,397.94 455.00,398.10 455.47,397.63 456.47,396.15 457.00,395.60 457.47,395.88 458.47,396.79 459.10,397.20 459.47,396.64 460.47,394.28 461.25,392.20 461.47,391.53 462.47,388.32 463.47,384.94 464.10,382.80 464.47,381.49 465.47,377.89 466.47,374.26 466.90,372.70 467.47,370.54 468.47,366.62 469.47,363.38 469.50,363.30 470.47,362.31 471.47,361.46 471.90,361.10 472.47,360.65 473.47,359.83 474.47,359.20 474.70,359.10 475.47,359.26 476.47,359.57 477.47,359.91 478.10,360.10 478.47,360.18 479.47,360.40 480.47,360.60 481.25,360.70 481.47,360.40 482.47,358.17 483.47,355.51 483.60,355.20 484.47,353.36 485.47,351.27 486.25,349.70 486.46,349.33 487.46,347.60 488.46,345.96 489.10,345.00 489.46,344.58 490.46,343.44 491.46,342.44 492.20,341.90 492.46,341.86 493.46,341.75 494.46,341.65 495.30,341.60 495.46,341.65 496.30,342.10 496.46,342.49 497.46,346.01 497.70,346.90 498.46,350.11 499.46,354.54 500.00,357.00 500.46,359.44 501.46,364.81 501.50,365.00 502.46,368.96 503.46,372.85 504.46,376.73 504.90,378.50 505.46,380.88 506.46,385.05 507.46,389.41 508.46,394.32 508.55,394.80 509.46,402.80 509.90,407.00 510.46,413.82 511.25,421.90 511.46,421.49 512.46,418.36 513.46,414.57 513.70,413.75 514.46,411.49 515.46,408.54 516.46,405.65 517.46,402.81 518.40,400.20 518.46,400.06 519.46,397.79 520.46,395.70 521.46,393.52 522.46,391.00 523.00,389.40 523.46,386.41 524.30,379.90 524.46,378.63 525.46,370.25 526.10,365.00 526.46,362.50 527.46,355.75 527.90,353.00 528.46,350.30 529.46,345.87 529.90,344.50 530.46,344.28 531.45,343.96 531.60,343.90 532.45,343.26 533.45,342.39 534.40,341.60 534.45,341.56 535.45,340.90 536.45,340.26 537.45,339.62 538.10,339.20 538.45,338.96 539.45,338.34 540.45,337.69 541.45,336.87 541.90,336.40 542.45,333.18 543.00,330.20 543.45,330.56 544.45,331.83 544.70,332.20 545.45,334.88 546.10,337.30 546.45,338.10 547.45,340.12 548.40,342.00 548.45,342.11 549.45,344.63 550.45,346.64 550.50,346.70 551.45,345.95 552.45,345.12 552.50,345.10 553.45,345.60"/>
<polyline class="kf" points="102.55,339.40 103.00,328.80 103.55,328.64 104.40,328.50 104.55,330.22 105.55,348.51 105.60,349.00 106.55,340.94 107.55,330.62 107.90,328.40 108.55,332.34 109.55,341.12 110.30,345.90 110.55,344.52 111.55,335.04 112.50,327.30 112.55,327.40 113.55,331.30 114.55,335.65 114.80,336.30 115.55,336.03 116.55,335.49 117.55,335.00 117.90,334.90 118.55,334.96 119.55,335.09 120.55,335.21 121.00,335.25 121.55,335.07 122.55,334.60 122.90,334.50 123.55,334.74 124.55,335.20 124.75,335.25 125.54,335.12 126.54,334.87 127.54,334.65 127.90,334.60 128.54,334.90 129.54,335.57 130.40,336.10 130.54,336.14 131.54,336.40 132.54,336.62 133.54,336.83 134.54,337.04 135.54,337.28 136.00,337.40 136.54,337.65 137.54,338.21 138.54,338.77 139.54,339.19 139.75,339.25 140.54,338.74 141.54,337.84 142.25,337.40 142.54,337.42 143.54,337.54 144.54,337.71 144.75,337.75 145.54,339.21 146.54,341.62 146.60,341.75 147.54,344.04 148.50,346.10 148.54,346.13 149.54,346.94 150.40,347.40 150.54,347.40 151.54,347.40 152.54,347.40 153.54,347.40 154.54,347.40 155.54,347.40 156.54,347.40 157.54,347.40 158.54,347.40 159.54,347.40 160.54,347.40 161.54,347.40 162.54,347.40 163.54,347.40 164.54,347.40 165.54,347.40 166.54,347.40 167.54,347.40 168.54,347.40 169.54,347.40 170.53,347.40 171.53,347.40 172.53,347.40 173.53,347.40 174.53,347.40 175.53,347.40 176.53,347.40 177.53,347.40 178.53,347.40 179.53,347.40 180.53,347.40 181.53,347.40 182.53,347.40 183.53,347.40 184.53,347.40 185.53,347.40 186.53,347.40 187.53,347.40 188.53,347.40 189.53,347.40 190.53,347.40 191.53,347.40 192.53,347.40 193.53,347.40 194.53,347.40 195.53,347.40 196.53,347.40 197.53,347.40 198.53,347.40 199.53,347.40 200.53,347.40 201.53,347.40 202.53,347.40 203.53,347.40 204.53,347.40 205.53,347.40 206.53,347.40 207.53,347.40 208.53,347.40 209.53,347.40 210.53,347.40 211.25,347.40 211.53,347.21 212.50,346.10 212.53,346.03 213.53,342.62 213.75,341.75 214.53,337.15 215.00,334.90 215.52,334.60 216.52,334.18 216.90,334.00 217.52,333.51 218.52,332.62 218.75,332.40 219.52,331.16 220.52,329.38 221.00,328.60 221.52,327.88 222.52,326.67 222.75,326.50 223.52,327.99 224.40,329.90 224.52,329.98 225.52,330.48 225.60,330.50 226.52,329.07 227.25,328.00 227.52,328.24 228.52,329.70 229.40,331.10 229.52,331.26 230.52,332.59 231.52,333.83 231.90,334.25 232.52,334.69 233.52,335.38 234.52,335.92 235.00,336.10 235.52,336.10 236.52,336.10 237.25,336.10 237.52,335.80 238.52,334.02 239.00,333.00 239.52,331.06 240.52,327.21 240.60,327.00 241.52,326.31 242.52,325.75 243.10,325.50 243.52,325.44 244.52,325.33 245.52,325.25 245.60,325.25 246.52,325.43 247.50,325.75 247.52,325.79 248.52,329.25 248.75,329.90 249.52,330.46 250.52,331.05 250.60,331.10 251.52,331.77 252.52,332.48 253.10,332.75 253.52,332.67 254.52,332.37 255.52,332.01 256.25,331.75 256.52,331.65 257.52,331.22 258.52,330.82 259.30,330.60 259.52,331.06 260.51,334.60 260.60,334.90 261.51,338.61 262.25,341.10 262.51,341.33 263.51,342.03 263.90,342.20 264.51,341.59 265.30,340.50 265.51,340.11 266.51,338.08 266.80,337.50 267.51,336.02 268.51,334.20 268.70,334.00 269.51,335.38 270.51,337.39 270.70,337.60 271.51,336.11 272.51,333.49 272.90,332.50 273.51,330.71 274.51,327.60 275.50,325.20 275.51,325.19 276.51,324.73 277.51,324.35 278.51,324.08 278.90,324.00 279.51,324.85 280.51,326.52 280.60,326.60 281.51,325.96 282.51,325.01 283.20,324.50 283.51,324.44 284.51,324.26 285.51,324.11 286.51,324.01 286.60,324.00 287.51,325.23 288.51,327.20 289.51,328.93 289.90,329.35 290.51,328.73 291.51,327.35 291.90,327.00 292.51,328.00 293.40,330.00 293.51,330.21 294.51,332.11 295.51,334.05 296.00,335.10 296.51,336.59 297.51,339.76 298.51,343.26 298.60,343.60 299.51,348.38 300.51,354.09 301.10,357.30 301.51,359.16 302.51,363.70 303.51,367.73 303.70,368.40 304.51,369.90 305.50,371.50 306.25,372.70 306.50,373.12 307.50,374.69 308.50,376.35 308.80,376.90 309.50,379.19 310.50,382.67 311.00,383.80 311.50,383.29 312.50,381.71 313.50,380.03 313.90,379.50 314.50,379.06 315.50,378.40 316.20,378.10 316.50,378.29 317.50,379.23 318.50,380.44 319.10,381.20 319.50,381.93 320.50,383.98 321.50,386.10 321.60,386.30 322.50,388.28 323.50,390.23 323.80,390.60 324.50,389.11 325.50,385.94 325.90,384.60 326.50,381.55 327.50,375.85 328.10,372.70 328.50,371.12 329.50,367.31 330.20,365.50 330.50,365.68 331.50,366.65 332.20,367.50 332.50,368.18 333.50,370.95 334.40,373.50 334.50,373.73 335.50,376.13 336.50,378.25 336.70,378.60 337.50,379.17 337.90,379.50 338.50,381.36 339.50,385.16 339.60,385.50 340.50,387.82 341.50,390.10 341.60,390.30 342.50,391.41 343.40,392.20 343.50,392.10 344.50,390.25 345.00,389.40 345.50,389.18 346.50,388.80 346.60,388.75 347.50,386.36 348.50,383.10 348.60,382.80 349.50,380.33 350.20,378.90 350.50,378.90 351.49,378.90 352.49,378.90 352.50,378.90 353.49,378.32 354.49,377.53 354.80,377.30 355.49,376.75 356.49,376.00 356.90,375.80 357.49,376.65 358.40,378.10 358.49,378.05 359.49,377.02 360.00,376.60 360.49,376.82 361.49,377.52 361.90,377.80 362.49,378.25 363.49,379.02 364.20,379.40 364.49,379.40 365.49,379.40 366.49,379.40 367.30,379.40 367.49,379.82 368.49,383.56 368.90,385.20 369.49,387.61 370.49,391.37 370.50,391.40 371.49,392.82 371.70,393.00 372.49,391.32 373.10,389.80 373.49,389.16 374.49,387.71 374.70,387.50 375.49,387.35 376.25,387.20 376.49,386.59 377.49,382.70 378.30,378.90 378.49,377.72 379.49,370.74 379.80,368.75 380.49,365.57 381.49,361.48 381.90,360.20 382.49,359.62 383.49,358.84 384.49,358.11 384.50,358.10 385.49,357.34 386.49,356.56 387.49,355.98 387.70,355.90 388.49,355.90 389.49,355.90 390.49,355.90 390.80,355.90 391.49,355.84 392.49,355.72 393.49,355.58 394.40,355.50 394.49,355.65 395.49,358.88 395.90,360.20 396.48,361.17 397.48,362.77 397.50,362.80 398.48,366.20 399.40,369.50 399.48,369.72 400.48,372.29 400.90,373.10 401.48,373.40 402.48,373.77 403.30,374.20 403.48,374.97 404.40,380.50 404.48,380.80 405.48,384.02 405.90,385.20 406.48,386.36 407.48,388.17 408.00,389.10 408.48,389.95 409.48,391.70 410.48,393.44 411.10,394.50 411.48,395.16 412.48,397.03 413.48,398.74 414.25,399.70 414.48,399.75 415.48,399.91 416.30,400.00 416.48,399.66 417.48,396.49 417.80,395.80 418.48,397.21 419.40,399.70 419.48,399.86 420.48,401.88 421.00,402.80 421.48,403.30 422.48,404.19 423.30,405.00 423.48,405.30 424.48,407.21 424.90,408.10 425.48,409.93 426.40,412.50 426.48,412.38 427.48,409.71 428.30,407.00 428.48,406.41 429.48,402.97 430.30,400.00 430.48,399.25 431.48,394.81 431.90,393.00 432.48,390.83 433.48,387.56 433.50,387.50 434.48,386.70 435.00,386.25 435.48,385.04 436.48,382.22 436.60,382.00 437.48,381.73 438.48,381.50 439.48,381.31 439.80,381.25 440.48,381.17 441.47,381.06 442.47,380.96 443.40,380.90 443.47,381.01 444.47,383.54 445.30,385.90 445.47,386.21 446.47,387.92 447.47,389.47 447.70,389.80 448.47,390.69 449.47,391.73 450.00,392.20 450.47,392.42 451.47,392.81 452.47,393.17 453.10,393.40 453.47,393.55 454.47,393.96 455.00,394.10 455.47,393.59 456.47,391.99 457.00,391.40 457.47,391.68 458.47,392.59 459.10,393.00 459.47,392.34 460.47,389.53 460.90,388.30 461.47,386.77 462.47,384.07 463.47,381.38 464.10,379.70 464.47,378.76 465.47,376.22 466.47,373.72 467.20,371.90 467.47,371.25 468.47,368.79 469.47,366.40 470.30,364.60 470.47,364.35 471.47,362.96 472.47,361.69 472.70,361.40 473.47,360.52 474.47,359.47 475.00,359.10 475.47,359.18 476.47,359.42 477.47,359.71 478.10,359.90 478.47,360.04 479.47,360.47 480.47,360.88 481.25,361.10 481.47,360.87 482.47,359.12 483.47,357.01 483.60,356.75 484.47,355.00 485.47,352.94 486.46,350.95 486.70,350.50 487.46,349.27 488.46,347.72 489.46,346.26 489.80,345.80 490.46,345.08 491.46,344.03 492.46,343.11 493.00,342.70 493.46,342.55 494.46,342.25 495.46,342.00 496.10,341.90 496.46,342.68 497.46,346.07 497.70,346.90 498.46,350.08 499.46,354.53 500.00,357.00 500.46,359.44 501.46,364.81 501.50,365.00 502.46,368.96 503.46,372.85 504.46,376.73 504.90,378.50 505.46,380.88 506.46,385.05 507.46,389.41 508.46,394.32 508.55,394.80 509.46,402.80 509.90,407.00 510.46,413.82 511.25,421.90 511.46,421.49 512.46,418.36 513.46,414.57 513.70,413.75 514.46,411.48 515.46,408.53 516.46,405.63 517.46,402.79 518.40,400.20 518.46,400.06 519.46,397.87 520.46,395.88 521.46,393.82 522.46,391.48 523.20,389.40 523.46,387.83 524.46,380.24 524.50,379.90 525.46,370.95 526.10,365.00 526.46,362.31 527.46,355.12 527.80,352.80 528.46,349.00 529.46,343.88 529.70,343.00 530.46,342.39 531.45,341.76 532.45,341.24 533.45,340.74 534.40,340.20 534.45,340.16 535.45,339.41 536.45,338.62 537.45,337.82 538.10,337.30 538.45,337.01 539.45,336.25 540.45,335.44 541.40,334.50 541.45,334.38 542.45,331.15 543.00,329.80 543.45,330.24 544.45,331.77 544.70,332.20 545.45,334.90 546.10,337.30 546.45,338.10 547.45,340.12 548.40,342.00 548.45,342.11 549.45,344.63 550.45,346.64 550.50,346.70 551.45,345.95 552.45,345.12 552.50,345.10 553.45,345.60"/>
</g>
<line class="tk" x1="88.5" y1="427.5" x2="88.5" y2="432.5"/>
<line class="tk" x1="150.5" y1="427.5" x2="150.5" y2="432.5"/>
<line class="tk" x1="212.5" y1="427.5" x2="212.5" y2="432.5"/>
<line class="tk" x1="274.5" y1="427.5" x2="274.5" y2="432.5"/>
<line class="tk" x1="336.5" y1="427.5" x2="336.5" y2="432.5"/>
<line class="tk" x1="398.5" y1="427.5" x2="398.5" y2="432.5"/>
<line class="tk" x1="460.5" y1="427.5" x2="460.5" y2="432.5"/>
<line class="tk" x1="522.5" y1="427.5" x2="522.5" y2="432.5"/>
<line class="tk" x1="80.5" y1="339.5" x2="75.5" y2="339.5"/>
<text id="t_yt3_0" x="61.92" y="344.55">0</text>
<line class="tk" x1="80.5" y1="379.5" x2="75.5" y2="379.5"/>
<text id="t_yt3_-1" x="50.03 60.66" y="383.8">−1</text>
<line class="tk" x1="80.5" y1="418.5" x2="75.5" y2="418.5"/>
<text id="t_yt3_-2" x="50.03 60.41" y="423.55">−2</text>
<rect class="sp" x="80.5" y="318.5" width="496" height="109"/>
<text id="t_off3" x="481.05 491.67 500.5 504.66 513.48 522.56 531.14 539.97 548.8 557.62 566.16" y="465.5">+1.403636e9</text>
<text id="t_yl3" transform="translate(40.6,374.75) rotate(-90)" x="-11.27 -3.22 3.72" y="0">p_z</text>
</g>
<text id="t_xt575" x="75.01 82.82 91.4" y="447.6">575</text>
<text id="t_xt600" x="137.01 145.82 154.4" y="447.6">600</text>
<text id="t_xt625" x="199.01 207.82 216.4" y="447.6">625</text>
<text id="t_xt650" x="261.01 269.82 278.4" y="447.6">650</text>
<text id="t_xt675" x="323.01 331.82 340.4" y="447.6">675</text>
<text id="t_xt700" x="385.01 392.82 401.4" y="447.6">700</text>
<text id="t_xt725" x="447.01 454.82 463.4" y="447.6">725</text>
<text id="t_xt750" x="509.01 516.82 525.4" y="447.6">750</text>
<text id="t_xlab" x="301.09 306.52 310.37 323.63 332.43 336.84 342.24 349.48" y="467.7">time [s]</text>
<g id="legend">
<rect x="87.5" y="113.5" width="138" height="46" rx="2.78" ry="2.78" fill="#ffffff" fill-opacity="0.8" stroke="#cccccc" stroke-opacity="0.8" stroke-width="1.389"/>
<line x1="93" y1="125" x2="120" y2="125" stroke="#1f77b4" stroke-width="2.083" stroke-linecap="square"/>
<text id="t_leg1" x="131.1 139.9 145.3 153.79 162.83 171.38 180.18 184.85 190.29 195.74 204.79 210.22" y="129.55">ground truth</text>
<line x1="93" y1="146" x2="120" y2="146" stroke="#ff7f0e" stroke-width="2.083" stroke-linecap="square"/>
<text id="t_leg2" x="132.1 138.38 147.16 155.38 160.52 166.22 174.72 188.24" y="150.7">keyframe</text>
</g>
</svg>
</body>
</html>
